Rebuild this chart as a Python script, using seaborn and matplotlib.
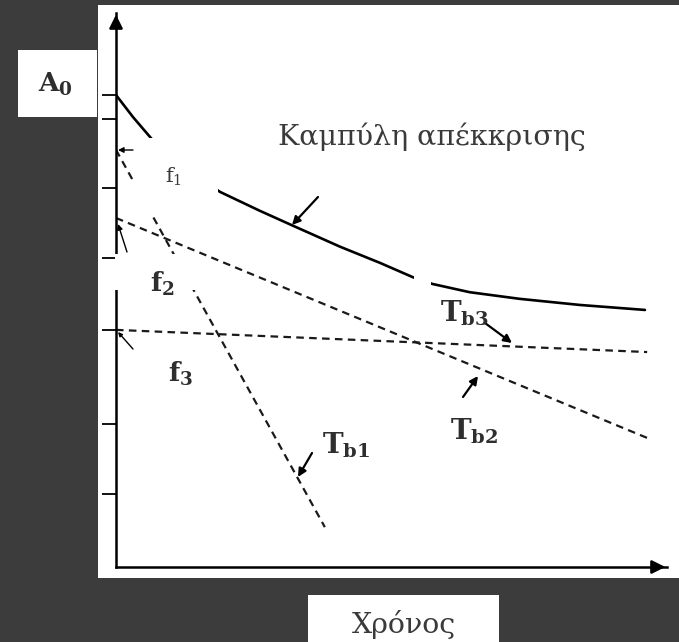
import matplotlib
matplotlib.use("Agg")
import matplotlib.pyplot as plt
from matplotlib.patches import Rectangle
import pandas as pd
import seaborn as sns

# Elimination (response) curve, time vs amplitude
curve_t = [0.00, 0.31, 0.74, 1.20, 1.89, 2.61, 3.19, 4.07, 4.79, 5.39, 5.74, 6.42, 7.33, 8.42, 9.60]
curve_a = [8.52, 8.12, 7.62, 7.22, 6.77, 6.43, 6.17, 5.78, 5.49, 5.23, 5.11, 4.96, 4.84, 4.73, 4.64]

# Component decay lines (extrapolated from each intercept f1, f2, f3)
tb1_t = [0.00, 3.79]
tb1_a = [7.53, 0.72]
tb2_t = [0.00, 9.64]
tb2_a = [6.30, 2.33]
tb3_t = [0.00, 9.64]
tb3_a = [4.28, 3.88]

ytick_values = [8.52, 8.09, 6.84, 5.58, 4.28, 2.58, 1.32]

curve = pd.DataFrame({"t": curve_t, "a": curve_a})
comps = {
    "Tb1": pd.DataFrame({"t": tb1_t, "a": tb1_a}),
    "Tb2": pd.DataFrame({"t": tb2_t, "a": tb2_a}),
    "Tb3": pd.DataFrame({"t": tb3_t, "a": tb3_a}),
}

sns.set_theme(style="white")
plt.rcParams["font.family"] = ["DejaVu Serif", "DejaVu Sans"]
plt.rcParams["mathtext.fontset"] = "dejavuserif"

W, H = 679, 642
BG = "#3c3c3c"
INK = "#2e2e2e"
fig = plt.figure(figsize=(W / 100, H / 100), dpi=100, facecolor=BG)


def fx(x):
    return x / W


def fy(y):
    return 1 - y / H


def white_box(x0, y0, x1, y1, z):
    return Rectangle((fx(x0), fy(y1)), (x1 - x0) / W, (y1 - y0) / H,
                     transform=fig.transFigure, facecolor="white",
                     edgecolor="none", zorder=z, clip_on=False)


# white sheets behind the plot and the axis captions
fig.patches.append(white_box(98, 5, 679, 578, -2))
fig.patches.append(white_box(18, 50, 97, 117, -2))
fig.patches.append(white_box(308, 595, 499, 642, -2))

ax = fig.add_axes([116 / W, (H - 567) / H, (667 - 116) / W, (567 - 13) / H])
ax.set_facecolor("none")
ax.set_zorder(1)
ax.set_xlim(0, 10)
ax.set_ylim(0, 10)

sns.lineplot(data=curve, x="t", y="a", ax=ax, color="black", linewidth=1.9,
             sort=False, zorder=2)
for name, df in comps.items():
    sns.lineplot(data=df, x="t", y="a", ax=ax, color="#1a1a1a", linewidth=1.6,
                 linestyle=(0, (3.4, 2.4)), zorder=2)

ax.set_xlabel("")
ax.set_ylabel("")
for s in ("top", "right"):
    ax.spines[s].set_visible(False)
for s in ("left", "bottom"):
    ax.spines[s].set_color("black")
    ax.spines[s].set_linewidth(1.8)
ax.set_xticks([])
ax.set_yticks(ytick_values)
ax.tick_params(axis="y", direction="out", length=10, width=1.3, color="black",
               labelleft=False, left=True)

# arrow heads on the axes
ax.annotate("", xy=(0, 10.02), xytext=(0, 9.7), xycoords="data",
            arrowprops=dict(arrowstyle="-|>", mutation_scale=20, color="black", lw=1.8),
            annotation_clip=False)
ax.annotate("", xy=(10.02, 0), xytext=(9.7, 0), xycoords="data",
            arrowprops=dict(arrowstyle="-|>", mutation_scale=20, color="black", lw=1.8),
            annotation_clip=False)

# label panels laid over the lines
for b in [(133, 138, 218, 215), (115, 254, 198, 290), (414, 270, 431, 290)]:
    ax.add_artist(white_box(*b, 3))


def pointer(x0, y0, x1, y1, scale=12, lw=1.6):
    ax.annotate("", xy=(x1, H - y1), xytext=(x0, H - y0),
                xycoords="figure pixels", textcoords="figure pixels",
                arrowprops=dict(arrowstyle="-|>", mutation_scale=scale,
                                color="black", lw=lw, shrinkA=0, shrinkB=0),
                annotation_clip=False, zorder=4)


pointer(318, 197, 292, 225)
pointer(485, 323, 512, 343)
pointer(463, 397, 478, 376)
pointer(312, 453, 298, 477)
pointer(133, 150, 118, 150, scale=8, lw=1.0)
pointer(127, 252, 118, 224, scale=8, lw=1.0)
pointer(133, 349, 118, 332, scale=6, lw=1.0)


def label(x, y, s, size, color=INK):
    fig.text(fx(x), fy(y), s, fontsize=size, color=color, ha="left",
             va="baseline", zorder=5, family="DejaVu Serif")


label(278, 145, "Καμπύλη απέκκρισης", 20.5, "#3a3a3a")
label(352, 633, "Χρόνος", 20.5, "#3a3a3a")
label(38, 92, r"$\mathbf{A}_{\mathbf{0}}$", 19)
label(165, 183, r"$\mathrm{f}_{1}$", 15, "#3a3a3a")
label(150, 292, r"$\mathbf{f}_{\mathbf{2}}$", 19)
label(168, 382, r"$\mathbf{f}_{\mathbf{3}}$", 19)
label(322, 453, r"$\mathbf{T}_{\mathbf{b1}}$", 20)
label(450, 440, r"$\mathbf{T}_{\mathbf{b2}}$", 20)
label(440, 322, r"$\mathbf{T}_{\mathbf{b3}}$", 20)

fig.savefig("out.png", dpi=100, facecolor=BG)
